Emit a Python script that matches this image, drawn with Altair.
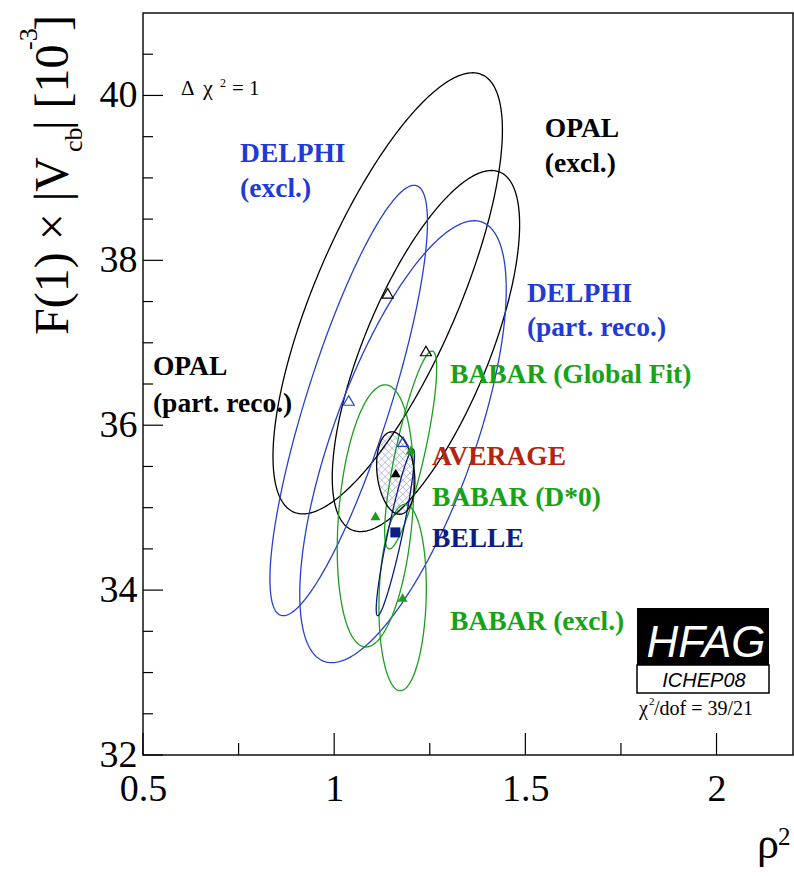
import altair as alt
import numpy as np
import pandas as pd

# ---------------- data: central values and 1-sigma (delta chi2 = 1) ellipses ----------------
names = ["OPAL (excl.)", "OPAL (part. reco.)", "DELPHI (excl.)", "DELPHI (part. reco.)",
         "BABAR (Global Fit)", "BABAR (D*0)", "BABAR (excl.)", "BELLE", "AVERAGE"]
rho2 = [1.14, 1.24, 1.038, 1.18, 1.20, 1.108, 1.179, 1.16, 1.161]
vcb = [37.6, 36.9, 36.3, 35.8, 35.7, 34.9, 33.91, 34.7, 35.42]
rho2_err = [0.30, 0.245, 0.206, 0.27, 0.068, 0.10, 0.062, 0.05, 0.05]
vcb_err = [2.675, 2.19, 2.61, 2.68, 1.2, 1.59, 1.13, 1.01, 0.50]
corr = [0.74, 0.70, 0.83, 0.69, 0.82, 0.25, 0.10, 0.92, -0.2]
line_colors = ["#000000", "#000000", "#2540d0", "#2540d0",
               "#1c9e1c", "#1c9e1c", "#1c9e1c", "#0c1c85", "#000000"]
marker_kind = ["open", "open", "open", "open", "tri", "tri", "tri", "square", "tri"]

# in-plot labels
label_text = ["OPAL", "(excl.)", "DELPHI", "(excl.)", "DELPHI", "(part. reco.)",
              "OPAL", "(part. reco.)", "BABAR (Global Fit)", "AVERAGE",
              "BABAR (D*0)", "BELLE", "BABAR (excl.)"]
label_color = ["#000000", "#000000", "#1f3ad8", "#1f3ad8", "#1f3ad8", "#1f3ad8",
               "#000000", "#000000", "#17a317", "#b5240f", "#17a317", "#0c1c85", "#17a317"]
label_x = [1.551, 1.551, 0.754, 0.754, 1.504, 1.504, 0.526, 0.526,
           1.303, 1.256, 1.256, 1.256, 1.303]
label_y = [39.496, 39.071, 39.193, 38.768, 37.494, 37.082, 36.609, 36.16,
           36.512, 35.517, 35.02, 34.523, 33.516]

x_major = [0.5, 1.0, 1.5, 2.0]
x_minor = [0.75, 1.25, 1.75]
y_major = [32, 34, 36, 38, 40]
y_minor = [32.5, 33, 33.5, 34.5, 35, 35.5, 36.5, 37, 37.5, 38.5, 39, 39.5, 40.5]

X_DOM = [0.5, 2.2]
Y_DOM = [32, 41]
W, H = 650, 742
SERIF = "Liberation Serif"
SANS = "Liberation Sans"

xs = alt.Scale(domain=X_DOM, nice=False, zero=False)
ys = alt.Scale(domain=Y_DOM, nice=False, zero=False)

# ---------------- ellipse outlines ----------------
t = np.linspace(0, 2 * np.pi, 361)
rows = []
for i, n in enumerate(names):
    ex = rho2[i] + rho2_err[i] * np.cos(t)
    ey = vcb[i] + vcb_err[i] * (corr[i] * np.cos(t) + np.sqrt(1 - corr[i] ** 2) * np.sin(t))
    for k in range(len(t)):
        rows.append({"name": n, "k": k, "x": ex[k], "y": ey[k]})
ell = pd.DataFrame(rows)

# ---------------- hatch of the average ellipse ----------------
ia = names.index("AVERAGE")
cov = np.array([[rho2_err[ia] ** 2, corr[ia] * rho2_err[ia] * vcb_err[ia]],
                [corr[ia] * rho2_err[ia] * vcb_err[ia], vcb_err[ia] ** 2]])
A = np.linalg.inv(cov)
kx = W / (X_DOM[1] - X_DOM[0])
ky = H / (Y_DOM[1] - Y_DOM[0])
hrows = []
for sgn in (1, -1):
    dp = np.array([1.0, sgn * 1.0]) / np.sqrt(2)
    npix = np.array([-dp[1], dp[0]])
    d = np.array([dp[0] / kx, dp[1] / ky])
    for s in np.arange(-60, 61, 5.0):
        p0 = np.array([s * npix[0] / kx, s * npix[1] / ky])
        a = d @ A @ d
        b = 2 * p0 @ A @ d
        c = p0 @ A @ p0 - 1
        disc = b * b - 4 * a * c
        if disc <= 0:
            continue
        t1 = (-b - np.sqrt(disc)) / (2 * a)
        t2 = (-b + np.sqrt(disc)) / (2 * a)
        q1 = p0 + t1 * d
        q2 = p0 + t2 * d
        hrows.append({"x": rho2[ia] + q1[0], "y": vcb[ia] + q1[1],
                      "x2": rho2[ia] + q2[0], "y2": vcb[ia] + q2[1]})
hatch = pd.DataFrame(hrows)

hatch_layer = alt.Chart(hatch).mark_rule(color="#a6aad8", strokeWidth=0.8).encode(
    x=alt.X("x:Q", scale=xs), y=alt.Y("y:Q", scale=ys), x2="x2:Q", y2="y2:Q")

others = ell[ell["name"] != "AVERAGE"]
lines = alt.Chart(others).mark_line(strokeWidth=1.3).encode(
    x=alt.X("x:Q", scale=xs,
            axis=alt.Axis(values=x_major, format="~g", title=None, domain=False, ticks=False,
                          grid=False, labelFont=SERIF, labelFontSize=38, labelColor="black",
                          labelPadding=15, labelFlush=False)),
    y=alt.Y("y:Q", scale=ys,
            axis=alt.Axis(values=y_major, format="d", title=None, domain=False, ticks=False,
                          grid=False, labelFont=SERIF, labelFontSize=38, labelColor="black",
                          labelPadding=6, labelFlush=False)),
    detail="name:N", order="k:Q",
    color=alt.Color("name:N", scale=alt.Scale(domain=names, range=line_colors), legend=None))

avg_line = alt.Chart(ell[ell["name"] == "AVERAGE"]).mark_line(
    strokeWidth=1.3, color="black").encode(
    x=alt.X("x:Q", scale=xs), y=alt.Y("y:Q", scale=ys), order="k:Q")

# ---------------- markers ----------------
mk = pd.DataFrame({"name": names, "x": rho2, "y": vcb, "kind": marker_kind, "color": line_colors})
open_tri = alt.Chart(mk[mk.kind == "open"]).mark_point(
    shape="triangle-up", filled=False, size=120, strokeWidth=1.2, opacity=1).encode(
    x=alt.X("x:Q", scale=xs), y=alt.Y("y:Q", scale=ys), stroke=alt.Stroke("color:N", scale=None))
full_tri = alt.Chart(mk[mk.kind == "tri"]).mark_point(
    shape="triangle-up", filled=True, size=100, opacity=1).encode(
    x=alt.X("x:Q", scale=xs), y=alt.Y("y:Q", scale=ys), fill=alt.Fill("color:N", scale=None))
square = alt.Chart(mk[mk.kind == "square"]).mark_point(
    shape="square", filled=True, size=100, opacity=1).encode(
    x=alt.X("x:Q", scale=xs), y=alt.Y("y:Q", scale=ys), fill=alt.Fill("color:N", scale=None))

# ---------------- inward ticks ----------------
def xticks(vals, length):
    return alt.Chart(pd.DataFrame({"v": vals})).mark_rule(color="black", strokeWidth=1.2).encode(
        x=alt.X("v:Q", scale=xs), y=alt.value(H), y2=alt.value(H - length))

def yticks(vals, length):
    return alt.Chart(pd.DataFrame({"v": vals})).mark_rule(color="black", strokeWidth=1.2).encode(
        y=alt.Y("v:Q", scale=ys), x=alt.value(0), x2=alt.value(length))

ticks = [xticks(x_major, 22), xticks(x_minor, 12), yticks(y_major, 20), yticks(y_minor, 10)]

# ---------------- labels ----------------
lab = pd.DataFrame({"text": label_text, "x": label_x, "y": label_y, "color": label_color})
labels = alt.Chart(lab).mark_text(font=SERIF, fontSize=27.5, fontWeight="bold",
                                  align="left", baseline="alphabetic").encode(
    x=alt.X("x:Q", scale=xs), y=alt.Y("y:Q", scale=ys), text="text:N",
    color=alt.Color("color:N", scale=None))

dummy = pd.DataFrame({"a": [0]})

def txt(s, x, y, size, font=SERIF, color="black", weight="normal", style="normal",
        align="left", angle=0):
    return alt.Chart(dummy).mark_text(text=s, fontSize=size, font=font, color=color,
                                      fontWeight=weight, fontStyle=style, align=align,
                                      angle=angle, baseline="alphabetic").encode(
        x=alt.value(x), y=alt.value(y))

texts = [
    # delta chi2 = 1
    txt("Δ", 38, 82, 21), txt("χ", 60, 82, 22), txt("2", 77, 74, 12), txt("= 1", 89, 82, 21),
    # y title
    txt("F(1) × |V", -75, 322, 48, angle=270),
    txt("cb", -61, 139, 26, angle=270),
    txt("| [10", -75, 117, 48, angle=270),
    txt("-3", -106, 37, 26, angle=270),
    txt("]", -75, 18, 48, angle=270),
    # x title
    txt("ρ", 625, 845, 44, align="center"), txt("2", 635, 832, 25),
    # chi2/dof
    txt("χ", 496, 702, 20), txt("2", 506, 692, 11), txt("/dof = 39/21", 511, 702, 20),
]

hfag_box = alt.Chart(dummy).mark_rect(color="black").encode(
    x=alt.value(494), x2=alt.value(626), y=alt.value(595), y2=alt.value(652))
ichep_box = alt.Chart(dummy).mark_rect(fill="white", stroke="black", strokeWidth=1.5).encode(
    x=alt.value(494), x2=alt.value(626), y=alt.value(652), y2=alt.value(680))
hfag_txt = [txt("HFAG", 563, 644, 44, font=SANS, color="white", style="italic", align="center"),
            txt("ICHEP08", 561, 674, 20, font=SANS, style="italic", align="center")]

chart = alt.layer(
    hatch_layer, lines, avg_line, open_tri, full_tri, square, *ticks, labels, *texts,
    hfag_box, ichep_box, *hfag_txt
).properties(
    width=W, height=H,
    autosize=alt.AutoSizeParams(type="none"),
    padding={"left": 143, "top": 13, "right": 1, "bottom": 121},
    background="white",
).configure_view(stroke="#111111", strokeWidth=1.5)

chart.save("out.html", embed_options={"renderer": "svg", "actions": False})
